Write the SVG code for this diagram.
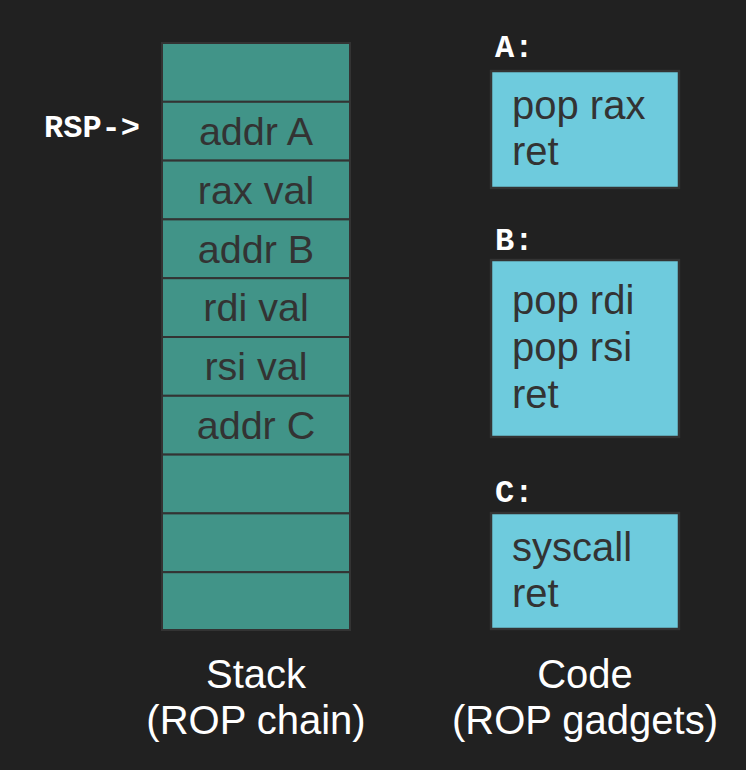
<svg xmlns="http://www.w3.org/2000/svg" width="746" height="770" viewBox="0 0 746 770">
<style>
.bg{fill:#212121}
.cell{fill:#419488;stroke:#333333;stroke-width:2}
.box{fill:#6ecbdd;stroke:#333333;stroke-width:2.5}
.ct{font-family:"Liberation Sans",Arial,sans-serif;font-size:39.5px;fill:#333333;text-anchor:middle}
.bt{font-family:"Liberation Sans",Arial,sans-serif;font-size:40px;fill:#333333}
.lbl{font-family:"Liberation Mono","Courier New",monospace;font-weight:bold;font-size:32px;fill:#ffffff}
.cap{font-family:"Liberation Sans",Arial,sans-serif;font-size:40px;fill:#ffffff;text-anchor:middle}
</style>
<rect class="bg" x="0" y="0" width="746" height="770"/>
<g id="stack">
<g id="cell0"><rect class="cell" x="162" y="43" width="188" height="58.8"/></g>
<g id="cell1"><rect class="cell" x="162" y="101.8" width="188" height="58.8"/><text class="ct" x="256" y="145">addr A</text></g>
<g id="cell2"><rect class="cell" x="162" y="160.6" width="188" height="58.8"/><text class="ct" x="256" y="203.8">rax val</text></g>
<g id="cell3"><rect class="cell" x="162" y="219.4" width="188" height="58.8"/><text class="ct" x="256" y="262.6">addr B</text></g>
<g id="cell4"><rect class="cell" x="162" y="278.2" width="188" height="58.8"/><text class="ct" x="256" y="321.4">rdi val</text></g>
<g id="cell5"><rect class="cell" x="162" y="337" width="188" height="58.8"/><text class="ct" x="256" y="380.2">rsi val</text></g>
<g id="cell6"><rect class="cell" x="162" y="395.8" width="188" height="58.8"/><text class="ct" x="256" y="439">addr C</text></g>
<g id="cell7"><rect class="cell" x="162" y="454.6" width="188" height="58.8"/></g>
<g id="cell8"><rect class="cell" x="162" y="513.4" width="188" height="58.8"/></g>
<g id="cell9"><rect class="cell" x="162" y="572.2" width="188" height="57.8"/></g>
</g>
<g id="rsp"><text class="lbl" x="44" y="137">RSP-&gt;</text></g>
<g id="gadgetA">
<text class="lbl" x="495" y="57">A:</text>
<rect class="box" x="491" y="71" width="188" height="117"/>
<text class="bt" x="512" y="119">pop rax</text>
<text class="bt" x="512" y="165">ret</text>
</g>
<g id="gadgetB">
<text class="lbl" x="495" y="250">B:</text>
<rect class="box" x="491" y="260" width="188" height="177"/>
<text class="bt" x="512" y="314">pop rdi</text>
<text class="bt" x="512" y="361">pop rsi</text>
<text class="bt" x="512" y="408">ret</text>
</g>
<g id="gadgetC">
<text class="lbl" x="495" y="502">C:</text>
<rect class="box" x="491" y="513" width="188" height="116"/>
<text class="bt" x="512" y="561">syscall</text>
<text class="bt" x="512" y="607">ret</text>
</g>
<g id="captions">
<text class="cap" x="256" y="688">Stack</text>
<text class="cap" x="256" y="734">(ROP chain)</text>
<text class="cap" x="585" y="688">Code</text>
<text class="cap" x="585" y="734">(ROP gadgets)</text>
</g>
<g id="connectors"/>
</svg>
